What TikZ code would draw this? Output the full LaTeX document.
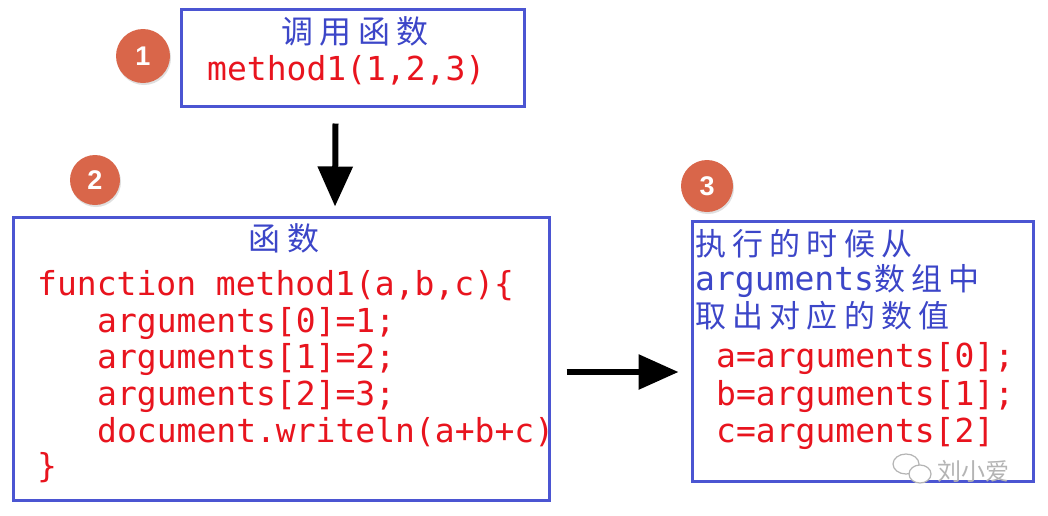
\documentclass[tikz,border=0pt]{standalone}
\usepackage{fontspec}
\setmainfont{DejaVu Sans}
\newfontfamily\cjk[LetterSpace=20]{Noto Sans CJK SC}
\newfontfamily\cjkplain{Noto Sans CJK SC}
\newfontfamily\code{DejaVu Sans Mono}
\newfontfamily\numfont{Liberation Sans}
\usetikzlibrary{arrows.meta,shadows}
\definecolor{boxblue}{HTML}{4B55D2}
\definecolor{textblue}{HTML}{3C46C8}
\definecolor{codered}{HTML}{E8141E}
\definecolor{badge}{HTML}{D9664A}
\definecolor{wm}{HTML}{B4B4B4}
\tikzset{
  box/.style={draw=boxblue, line width=3pt, inner sep=0pt, fill=white},
  badgecirc/.style={circle, fill=badge, minimum size=#1, inner sep=0pt, text=white,
     font=\numfont\bfseries\fontsize{27}{27}\selectfont,
     drop shadow={opacity=0.25, shadow xshift=1pt, shadow yshift=-2pt}},
  codeline/.style={anchor=base west, inner sep=0pt, text=codered, font=\code\fontsize{33}{33}\selectfont},
  cnline/.style={anchor=base west, inner sep=0pt, text=textblue, font=\cjk\fontsize{31}{31}\selectfont},
  cntitle/.style={anchor=base, inner sep=0pt, text=textblue, font=\cjk\fontsize{32}{32}\selectfont},
  bigarrow/.style={line width=6pt, -{Triangle[width=34pt,length=40pt]}}
}
\begin{document}
\begin{tikzpicture}[x=1pt,y=-1pt]
\useasboundingbox (0,0) rectangle (1048,515);
% boxes
\node[box, minimum width=343pt, minimum height=97pt] (top) at (352.5,57.5) {};
\node[box, minimum width=536pt, minimum height=283pt] (fn) at (281,358.5) {};
\node[box, minimum width=341pt, minimum height=260pt] (exec) at (862.5,351) {};
% badges
\node[badgecirc=54pt] (b1) at (143,56) {1};
\node[badgecirc=50pt] (b2) at (95,180) {2};
\node[badgecirc=52pt] (b3) at (707,186) {3};
% top box text
\node[cntitle] (t1) at (355,43) {调用函数};
\node[codeline] (t2) at (207,80) {method1(1,2,3)};
% function box text
\node[cntitle] (f0) at (284,250) {函数};
\node[codeline] (f1) at (37,295) {function method1(a,b,c)\{};
\node[codeline] (f2) at (97,332) {arguments[0]=1;};
\node[codeline] (f3) at (97,368) {arguments[1]=2;};
\node[codeline] (f4) at (97,405) {arguments[2]=3;};
\node[codeline] (f5) at (97,442) {document.writeln(a+b+c)};
\node[codeline] (f6) at (37,477) {\}};
% exec box text
\node[cnline] (e1) at (695,255) {执行的时候从};
\node[cnline] (e2) at (695,290) {{\code\fontsize{33}{33}\selectfont arguments}数组中};
\node[cnline] (e3) at (695,327) {取出对应的数值};
\node[codeline] (e4) at (716,367) {a=arguments[0];};
\node[codeline] (e5) at (716,405) {b=arguments[1];};
\node[codeline] (e6) at (716,442) {c=arguments[2]};
% watermark
\draw[wm, line width=1.2pt, fill=white] (906,464) ellipse (13pt and 10pt);
\draw[wm, line width=1.2pt, fill=white] (920,474) ellipse (11pt and 9pt);
\node[anchor=base west, inner sep=0pt, text=wm, font=\cjkplain\fontsize{24}{24}\selectfont] (wmtext) at (937,480) {刘小爱};
% arrows
\draw[bigarrow] ([shift={(-17,16)}]top.south) -- ([shift={(54,-9)}]fn.north);
\draw[bigarrow] ([shift={(16,13.5)}]fn.east) -- ([shift={(-12,21)}]exec.west);
\end{tikzpicture}
\end{document}
